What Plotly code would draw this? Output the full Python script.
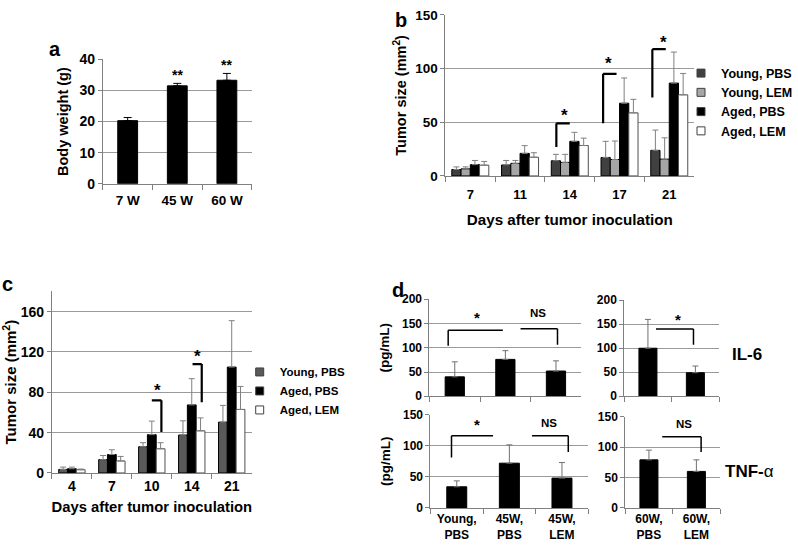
import plotly.graph_objects as go

W, H = 798, 546
FONT = "Liberation Sans, Arial, sans-serif"

# ---------------- data ----------------
# panel a
a_cats = ["7 W", "45 W", "60 W"]
a_vals = [20.3, 31.5, 33.3]
a_err = [1.0, 0.8, 2.2]

# panel b
b_days = ["7", "11", "14", "17", "21"]
b_young_pbs = [6.0, 10.2, 14.1, 17.2, 23.8]
b_young_pbs_err = [2.4, 4.2, 6.0, 15.0, 18.9]
b_young_lem = [6.6, 11.7, 12.6, 15.3, 15.6]
b_young_lem_err = [1.8, 2.7, 7.5, 17.2, 19.9]
b_aged_pbs = [10.5, 21.0, 32.2, 67.7, 86.4]
b_aged_pbs_err = [3.9, 7.2, 8.4, 23.5, 28.9]
b_aged_lem = [10.0, 17.4, 28.3, 58.7, 75.5]
b_aged_lem_err = [3.5, 4.2, 6.9, 12.6, 19.9]

# panel c
c_days = ["4", "7", "10", "14", "21"]
c_young_pbs = [3.5, 13.2, 26.0, 37.6, 50.4]
c_young_pbs_err = [2.3, 4.1, 4.0, 14.1, 16.6]
c_aged_pbs = [4.2, 18.3, 38.0, 67.5, 105.0]
c_aged_pbs_err = [1.6, 4.7, 13.4, 26.0, 46.0]
c_aged_lem = [3.2, 11.9, 24.0, 41.8, 63.0]
c_aged_lem_err = [0.7, 4.5, 6.0, 12.8, 22.8]

# panel d
d_groups_45 = ["Young,<br>PBS", "45W,<br>PBS", "45W,<br>LEM"]
d_groups_60 = ["60W,<br>PBS", "60W,<br>LEM"]
d_il6_45 = [40, 76, 52]
d_il6_45_err = [31, 18, 21]
d_il6_60 = [100, 49]
d_il6_60_err = [60, 14]
d_tnf_45 = [34, 72, 48]
d_tnf_45_err = [9.5, 29.5, 25]
d_tnf_60 = [79, 60]
d_tnf_60_err = [16, 19]


def X(r):
    return r / W


def Y(r):
    return 1 - r / H


def xd(x0, x1):
    return [X(x0), X(x1)]


def yd(top, bot):
    return [Y(bot), Y(top)]


fig = go.Figure()


def bars(cats, vals, errs, color, xa, ya, width, offset, ecolor, ewidth, name, lcolor="black"):
    fig.add_trace(go.Bar(
        x=cats, y=vals, width=width, offset=offset, name=name,
        marker=dict(color=color, line=dict(color=lcolor, width=1)),
        error_y=dict(type="data", array=errs, arrayminus=[0] * len(errs), symmetric=False,
                     color=ecolor, thickness=1, width=ewidth),
        xaxis=xa, yaxis=ya, showlegend=False))


def legend_item(name, color, legend, lcolor="#404040"):
    fig.add_trace(go.Scatter(
        x=[None], y=[None], mode="markers", name=name, legend=legend,
        marker=dict(symbol="square", size=8, color=color, line=dict(color=lcolor, width=1)),
        xaxis="x2", yaxis="y2", showlegend=True, hoverinfo="skip"))


# a
bars(a_cats, a_vals, a_err, "black", "x", "y", 0.4, -0.2, "black", 4, "Body weight")

# b
bw = 0.186
b_series = [
    ("Young, PBS", b_young_pbs, b_young_pbs_err, "#404040"),
    ("Young, LEM", b_young_lem, b_young_lem_err, "#a6a6a6"),
    ("Aged, PBS", b_aged_pbs, b_aged_pbs_err, "black"),
    ("Aged, LEM", b_aged_lem, b_aged_lem_err, "white"),
]
for i, (nm, v, e, col) in enumerate(b_series):
    bars(b_days, v, e, col, "x2", "y2", bw, -2 * bw + i * bw, "#808080", 3, nm,
         lcolor="#505050" if col == "white" else "black")

# c
cw = 0.22
c_series = [
    ("Young, PBS", c_young_pbs, c_young_pbs_err, "#5a5a5a"),
    ("Aged, PBS", c_aged_pbs, c_aged_pbs_err, "black"),
    ("Aged, LEM", c_aged_lem, c_aged_lem_err, "white"),
]
for i, (nm, v, e, col) in enumerate(c_series):
    bars(c_days, v, e, col, "x3", "y3", cw, -1.5 * cw + i * cw, "#808080", 3, nm,
         lcolor="#505050" if col == "white" else "black")

# d
bars(d_groups_45, d_il6_45, d_il6_45_err, "black", "x4", "y4", 0.38, -0.19, "#707070", 3, "IL-6")
bars(d_groups_60, d_il6_60, d_il6_60_err, "black", "x5", "y5", 0.38, -0.19, "#707070", 3, "IL-6")
bars(d_groups_45, d_tnf_45, d_tnf_45_err, "black", "x6", "y6", 0.38, -0.19, "#707070", 3, "TNF-α")
bars(d_groups_60, d_tnf_60, d_tnf_60_err, "black", "x7", "y7", 0.38, -0.19, "#707070", 3, "TNF-α")

# legends
for nm, _, _, col in b_series:
    legend_item(nm, col, "legend")
for nm, _, _, col in c_series:
    legend_item(nm, col, "legend2")

GRID = "#9a9a9a"
AXL = "#808080"


def xax(dom, anchor, n, size=13, showlabels=True, title=None, standoff=None, lstand=0,
        tsize=15.2):
    d = dict(domain=dom, anchor=anchor, type="category", range=[-0.5, n - 0.5],
             showline=True, linecolor=AXL, linewidth=1, ticks="outside", tickson="boundaries",
             ticklen=5, tickcolor=AXL, showgrid=False, zeroline=False, fixedrange=True,
             showticklabels=showlabels, ticklabelstandoff=lstand,
             tickfont=dict(family=FONT, size=size, color="black", weight="bold"))
    if title:
        d["title"] = dict(text=title, standoff=standoff,
                          font=dict(family=FONT, size=tsize, color="black", weight="bold"))
    return d


def yax(dom, anchor, rng, tickvals, size=13, title=None, standoff=None, tsize=14.5):
    d = dict(domain=dom, anchor=anchor, range=rng, tickvals=tickvals,
             showline=True, linecolor=AXL, linewidth=1, ticks="outside", ticklen=4,
             tickcolor=AXL, showgrid=True, gridcolor=GRID, gridwidth=1, zeroline=False,
             fixedrange=True,
             tickfont=dict(family=FONT, size=size, color="black", weight="bold"))
    if title:
        d["title"] = dict(text=title, standoff=standoff,
                          font=dict(family=FONT, size=tsize, color="black", weight="bold"))
    return d


fig.update_layout(
    width=W, height=H, margin=dict(l=0, r=0, t=0, b=0),
    paper_bgcolor="white", plot_bgcolor="white", barmode="overlay",
    font=dict(family=FONT, color="black"),
    xaxis=xax(xd(103, 252), "y", 3, size=13.5, lstand=4),
    yaxis=yax(yd(53, 181), "x", [0, 40], [0, 10, 20, 30, 40], size=14,
              title="Body weight (g)", standoff=7),
    xaxis2=xax(xd(446, 695), "y2", 5, title="Days after tumor inoculation", standoff=13,
               lstand=6),
    yaxis2=yax(yd(7, 173), "x2", [0, 150], [0, 50, 100, 150], size=13.5,
               title="Tumor size (mm<sup>2</sup>)", standoff=5),
    xaxis3=xax(xd(52, 252), "y3", 5, size=14, title="Days after tumor inoculation", standoff=8,
               tsize=14.8),
    yaxis3=yax(yd(292, 479), "x3", [0, 180], [0, 40, 80, 120, 160], size=14,
               title="Tumor size (mm<sup>2</sup>)", standoff=10, tsize=15),
    xaxis4=xax(xd(430, 582), "y4", 3, showlabels=False),
    yaxis4=yax(yd(300, 400), "x4", [0, 200], [0, 50, 100, 150, 200], size=12,
               title="(pg/mL)", standoff=9, tsize=13.5),
    xaxis5=xax(xd(625, 720), "y5", 2, showlabels=False),
    yaxis5=yax(yd(301, 400), "x5", [0, 200], [0, 50, 100, 150, 200], size=12),
    xaxis6=xax(xd(431, 589), "y6", 3, size=12, lstand=0),
    yaxis6=yax(yd(419, 515), "x6", [0, 150], [0, 50, 100, 150], size=12,
               title="(pg/mL)", standoff=9, tsize=13.5),
    xaxis7=xax(xd(626, 721), "y7", 2, size=12, lstand=0),
    yaxis7=yax(yd(421, 515), "x7", [0, 150], [0, 50, 100, 150], size=12),
    legend=dict(x=X(682), y=Y(52), xanchor="left", yanchor="top",
                bgcolor="rgba(0,0,0,0)", tracegroupgap=0,
                font=dict(family=FONT, size=12.5, color="black", weight="bold")),
    legend2=dict(x=X(240), y=Y(360), xanchor="left", yanchor="top",
                 bgcolor="rgba(0,0,0,0)", tracegroupgap=0,
                 font=dict(family=FONT, size=11.5, color="black", weight="bold")),
    showlegend=True,
)

shapes = []


def bracket(xr, yr, pts, lw=2):
    for (x0, y0), (x1, y1) in zip(pts[:-1], pts[1:]):
        shapes.append(dict(type="line", xref=xr, yref=yr, x0=x0, y0=y0, x1=x1, y1=y1,
                           line=dict(color="black", width=lw)))


# b brackets
bracket("x2", "y2", [(1.73, 27), (1.73, 49), (2.0, 49)], 2.2)
bracket("x2", "y2", [(2.67, 49), (2.67, 95), (2.94, 95)], 2.2)
bracket("x2", "y2", [(3.66, 73), (3.66, 118), (3.93, 118)], 2.2)
# c brackets
bracket("x3", "y3", [(2.0, 72), (2.24, 72), (2.24, 40.5)], 2.2)
bracket("x3", "y3", [(3.02, 108), (3.25, 108), (3.25, 70)], 2.2)
# d brackets
bracket("x4", "y4", [(-0.13, 104), (-0.13, 136), (0.95, 136)], 1.5)
bracket("x4", "y4", [(1.3, 139), (2.03, 139), (2.03, 106)], 1.5)
bracket("x5", "y5", [(0.17, 140), (0.96, 140), (0.96, 107)], 1.5)
bracket("x6", "y6", [(-0.1, 81), (-0.1, 116), (0.69, 116)], 1.5)
bracket("x6", "y6", [(1.43, 116), (2.12, 116), (2.12, 90)], 1.5)
bracket("x7", "y7", [(0.28, 117), (1.1, 117), (1.1, 92)], 1.5)

fig.update_layout(shapes=shapes)

ann = []


def txt(x, y, s, size, xr="paper", yr="paper", bold=True):
    ann.append(dict(x=x, y=y, xref=xr, yref=yr, text=s, showarrow=False,
                    xanchor="center", yanchor="middle",
                    font=dict(family=FONT, size=size, color="black",
                              weight="bold" if bold else "normal")))


# panel letters
txt(X(55), Y(42), "a", 20)
txt(X(402), Y(12), "b", 20)
txt(X(8), Y(284), "c", 20)
txt(X(398), Y(290), "d", 20)

# stars a
txt(1, 35.0, "**", 14, "x", "y")
txt(2, 38.3, "**", 14, "x", "y")
# stars b
txt(1.9, 56, "*", 17, "x2", "y2")
txt(2.78, 105, "*", 17, "x2", "y2")
txt(3.89, 124, "*", 17, "x2", "y2")
# stars c
txt(2.15, 82, "*", 17, "x3", "y3")
txt(3.15, 115, "*", 17, "x3", "y3")
# d
txt(0.44, 163, "*", 15, "x4", "y4")
txt(1.65, 172, "NS", 11.5, "x4", "y4")
txt(0.64, 160, "*", 15, "x5", "y5")
txt(0.38, 134, "*", 15, "x6", "y6")
txt(1.76, 136, "NS", 11.5, "x6", "y6")
txt(0.74, 138, "NS", 11.5, "x7", "y7")

txt(X(748), Y(357), "IL-6", 17)
txt(X(750), Y(478), "<b>TNF-</b>α", 17, bold=False)

fig.update_layout(annotations=ann)

fig.write_html(
    "out.html",
    config={"displayModeBar": False},
    post_script="document.body.style.margin='0';document.body.style.padding='0';"
                "document.documentElement.style.overflow='hidden';",
)
